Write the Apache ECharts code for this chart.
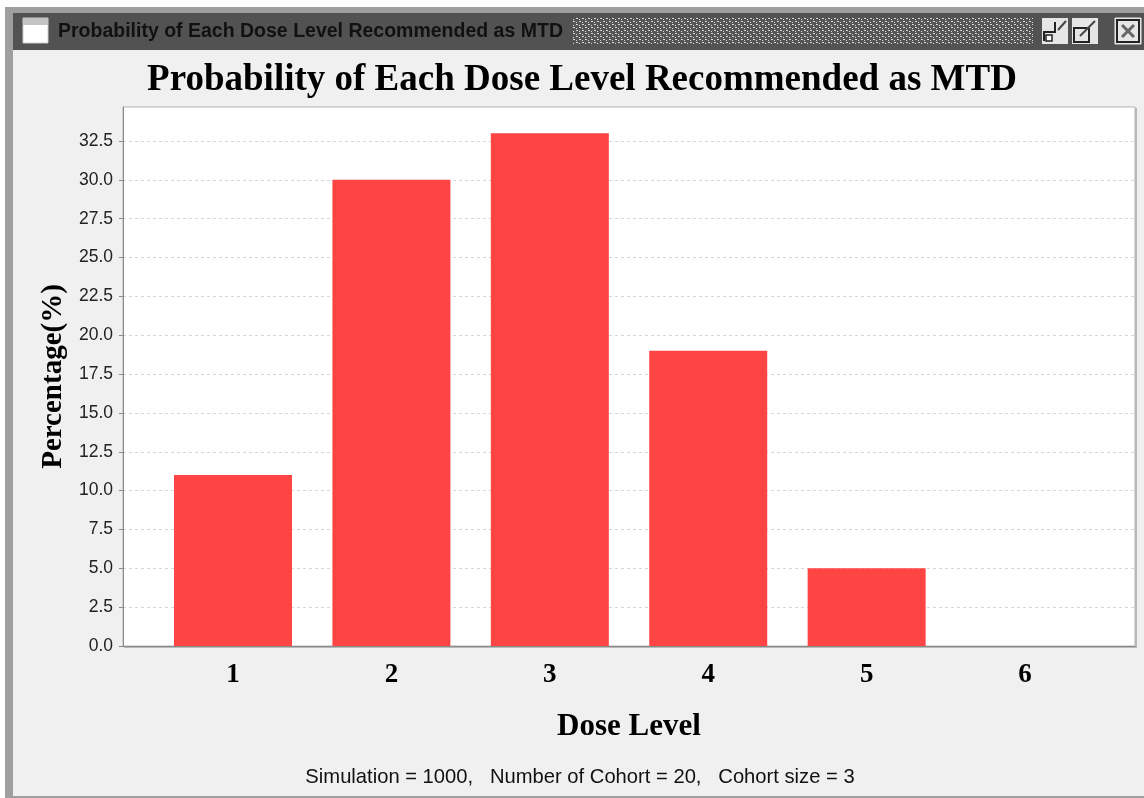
<!DOCTYPE html>
<html><head><meta charset="utf-8">
<style>html,body{margin:0;padding:0;background:#fff}#c{width:1144px;height:798px}</style>
<script src="https://cdn.jsdelivr.net/npm/echarts@6/dist/echarts.min.js"></script>
</head><body><div id="c"></div>
<script>
const doseLevels = [1, 2, 3, 4, 5, 6];
const percentages = [11, 30, 33, 19, 5, 0];
const yTicks = [0, 2.5, 5, 7.5, 10, 12.5, 15, 17.5, 20, 22.5, 25, 27.5, 30, 32.5];
const titleText = 'Probability of Each Dose Level Recommended as MTD';
const xName = 'Dose Level';
const yName = 'Percentage(%)';
const footer = 'Simulation = 1000,   Number of Cohort = 20,   Cohort size = 3';

const hatch = document.createElement('canvas');
hatch.width = 6; hatch.height = 6;
const hc = hatch.getContext('2d');
hc.fillStyle = '#555'; hc.fillRect(0,0,6,6);
hc.fillStyle = '#d8d8d8';
for (let i = 0; i < 6; i += 3) { hc.fillRect(i,i,2,1); hc.fillRect((i+3)%6,(i+1)%6,1,1); }

const serif = '"Liberation Serif", serif';
const sans = '"Liberation Sans", sans-serif';
const chrome = [
  {type:'rect',shape:{x:5,y:7,width:1139,height:791},style:{fill:'#9f9f9f'}},
  {type:'rect',shape:{x:13,y:13,width:1131,height:783},style:{fill:'#f0f0f0'}},
  {type:'rect',shape:{x:13,y:13,width:1131,height:37},style:{fill:'#525252'}},
  {type:'rect',shape:{x:573,y:17,width:460,height:27},style:{fill:{image:hatch,repeat:'repeat'}}},
  {type:'rect',shape:{x:23,y:18,width:25,height:25},style:{fill:'#fff',stroke:'#ccc',lineWidth:1}},
  {type:'rect',shape:{x:23,y:18,width:25,height:7},style:{fill:'#c4c4c4'}},
  {type:'text',x:58,y:32,style:{text:titleText,font:'bold 19.5px '+sans,fill:'#111',textVerticalAlign:'middle'}},
  {type:'rect',shape:{x:1042,y:18,width:26,height:26},style:{fill:'#e6e6e6'}},
  {type:'polyline',shape:{points:[[1044,41],[1044,32],[1055,32],[1055,22]]},style:{stroke:'#222',fill:null,lineWidth:2}},
  {type:'rect',shape:{x:1046,y:35,width:6,height:6},style:{fill:'#fff',stroke:'#222',lineWidth:1.5}},
  {type:'line',shape:{x1:1058,y1:30,x2:1066,y2:21},style:{stroke:'#444',lineWidth:2}},
  {type:'rect',shape:{x:1072,y:18,width:26,height:26},style:{fill:'#e6e6e6'}},
  {type:'rect',shape:{x:1074,y:28,width:15,height:14},style:{fill:'#e6e6e6',stroke:'#222',lineWidth:2}},
  {type:'line',shape:{x1:1080,y1:36,x2:1095,y2:21},style:{stroke:'#444',lineWidth:2}},
  {type:'rect',shape:{x:1115,y:18,width:26,height:26},style:{fill:'#e6e6e6',stroke:'#e6e6e6',lineWidth:1}},
  {type:'rect',shape:{x:1117,y:20,width:22,height:22},style:{fill:'#e6e6e6',stroke:'#222',lineWidth:2}},
  {type:'line',shape:{x1:1122,y1:25,x2:1134,y2:37},style:{stroke:'#666',lineWidth:3}},
  {type:'line',shape:{x1:1134,y1:25,x2:1122,y2:37},style:{stroke:'#666',lineWidth:3}},
  {type:'rect',shape:{x:124,y:108,width:1013,height:540},style:{fill:'#b8b8b8'}}
].map(g => Object.assign({silent:true,z:-10}, g));

const chart = echarts.init(document.getElementById('c'), null, {renderer:'canvas'});
chart.setOption({
  animation:false,
  backgroundColor:'#fff',
  graphic:{elements:chrome},
  title:[
    {text:titleText,left:577,top:57,textAlign:'center',textStyle:{fontFamily:serif,fontWeight:'bold',fontSize:37,color:'#000'}},
    {text:footer,left:575,top:762,textAlign:'center',textStyle:{fontFamily:sans,fontWeight:'normal',fontSize:20.2,color:'#111'}}
  ],
  grid:{left:123,top:107,width:1012,height:539,show:true,backgroundColor:'#fff',borderColor:'#b5b5b5',borderWidth:1},
  xAxis:{
    type:'value',min:0.3056,max:6.694,
    name:xName,nameLocation:'middle',nameGap:65,
    nameTextStyle:{fontFamily:serif,fontWeight:'bold',fontSize:31,color:'#000'},
    axisLine:{onZero:false,lineStyle:{color:'#8a8a8a'}},
    splitLine:{show:false},
    axisTick:{show:false},
    axisLabel:{customValues:doseLevels,margin:16,formatter:v=>String(v),fontFamily:serif,fontWeight:'bold',fontSize:27,color:'#000'}
  },
  yAxis:{
    type:'value',min:0,max:34.69,interval:2.5,
    name:yName,nameLocation:'middle',nameGap:54,
    nameTextStyle:{fontFamily:serif,fontWeight:'bold',fontSize:29,color:'#000'},
    axisLine:{show:true,lineStyle:{color:'#8a8a8a'}},
    axisTick:{show:true,length:4,lineStyle:{color:'#8a8a8a'},customValues:yTicks},
    axisLabel:{customValues:yTicks,margin:10,formatter:v=>v.toFixed(1),fontFamily:sans,fontSize:17.5,color:'#222'},
    splitLine:{show:true,lineStyle:{color:'#d6d6d6',type:[3,3],width:1}}
  },
  series:[{type:'bar',barWidth:118,itemStyle:{color:'#ff4444'},
    data:doseLevels.map((d,i)=>[d,percentages[i]])}]
});
</script></body></html>
